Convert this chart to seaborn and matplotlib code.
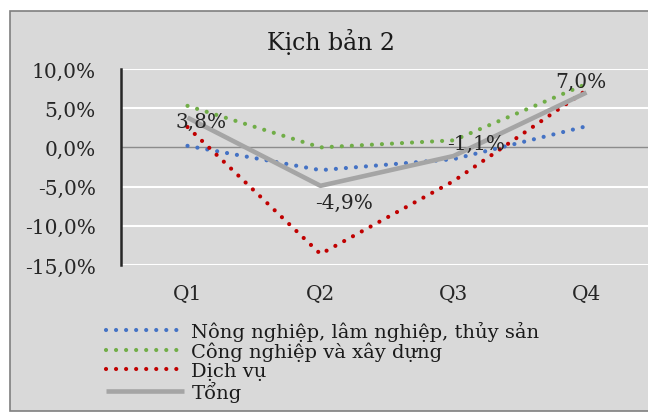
import matplotlib
matplotlib.use("Agg")
import matplotlib.pyplot as plt
import matplotlib.patches as mpatches
import pandas as pd
import seaborn as sns

# values (% growth)
quarters = ["Q1", "Q2", "Q3", "Q4"]
nong_nghiep = [0.2, -2.9, -1.5, 2.7]
cong_nghiep = [5.3, 0.0, 0.9, 8.1]
dich_vu = [2.6, -13.6, -4.3, 7.3]
tong = [3.8, -4.9, -1.1, 7.0]
series_names = ["Nông nghiệp, lâm nghiệp, thủy sản", "Công nghiệp và xây dựng",
                "Dịch vụ", "Tổng"]
yticks = [-15, -10, -5, 0, 5, 10]

BG = "#d9d9d9"
sns.set_theme(style="white")
plt.rcParams["font.family"] = ["DejaVu Serif", "DejaVu Sans"]

fig = plt.figure(figsize=(6.48, 4.14), dpi=100)
fig.patch.set_facecolor("white")
# chart area frame (cropped on the right like the reference)
fig.patches.append(mpatches.Rectangle((10 / 648, 2 / 414), 1.2, 400 / 414,
                                      transform=fig.transFigure, facecolor=BG,
                                      edgecolor="#7f7f7f", lw=1.2, zorder=-10))

ax = fig.add_axes([121 / 648, 148 / 414, 532 / 648, 196 / 414])
ax.set_facecolor(BG)
ax.set_zorder(1)

df = pd.DataFrame({"q": quarters * 4,
                   "v": nong_nghiep + cong_nghiep + dich_vu + tong,
                   "s": [n for n in series_names for _ in quarters]})

dots = (0, (0.01, 2.4))
styles = {
    series_names[0]: dict(color="#4472c4", lw=3.0, ls=dots, dash_capstyle="round"),
    series_names[1]: dict(color="#70ad47", lw=3.0, ls=dots, dash_capstyle="round"),
    series_names[2]: dict(color="#c00000", lw=3.0, ls=dots, dash_capstyle="round"),
    series_names[3]: dict(color="#a5a5a5", lw=3.3, ls="-", solid_capstyle="butt"),
}
for name in series_names:
    sub = df[df["s"] == name]
    st = styles[name]
    sns.lineplot(data=sub, x="q", y="v", ax=ax, sort=False, color=st["color"],
                 lw=st["lw"], linestyle=st["ls"], label=name,
                 **{k: v for k, v in st.items() if k not in ("color", "lw", "ls")})

# data labels on total
offsets = [(10, -3), (17, -12), (16, 9), (-4, 8)]
for i, (v, off) in enumerate(zip(tong, offsets)):
    ax.annotate(f"{v:.1f}%".replace(".", ","), (i, v), xytext=off,
                textcoords="offset points", ha="center", va="center",
                fontsize=14.5, color="#262626", zorder=5)

ax.set_xlim(-0.5, 3.5)
ax.set_ylim(-15, 10)
ax.set_yticks(yticks)
ax.set_yticklabels([f"{t:.1f}%".replace(".", ",") for t in yticks])
ax.set_xlabel("")
ax.set_ylabel("")
for t in yticks:
    if t != 0:
        ax.axhline(t, color="white", lw=1.5, zorder=0)
ax.axhline(0, color="#8c8c8c", lw=1.0, zorder=1)
for side in ["top", "right", "bottom"]:
    ax.spines[side].set_visible(False)
ax.spines["left"].set_color("#262626")
ax.spines["left"].set_linewidth(1.8)
ax.tick_params(axis="y", length=0, pad=18, labelsize=14.5, labelcolor="#262626")
ax.tick_params(axis="x", length=0, pad=14, labelsize=14.5, labelcolor="#262626")

fig.text(331 / 648, 1 - 42 / 414, "Kịch bản 2", ha="center", va="center",
         fontsize=17, color="#1a1a1a")

leg = ax.legend(loc="upper left", bbox_to_anchor=(98 / 648, 1 - 314 / 414),
                bbox_transform=fig.transFigure, frameon=False, fontsize=14,
                handlelength=4.0, handletextpad=0.4, labelspacing=0.05,
                borderaxespad=0)
for txt in leg.get_texts():
    txt.set_color("#1a1a1a")

fig.savefig("out.png", dpi=100, facecolor=fig.get_facecolor())
